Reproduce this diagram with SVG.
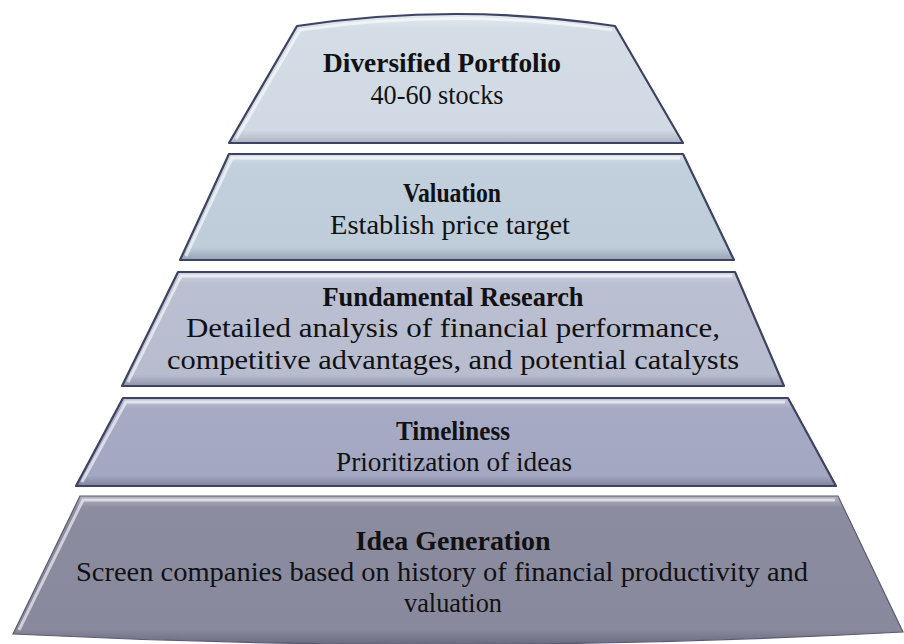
<svg xmlns="http://www.w3.org/2000/svg" width="904" height="644" viewBox="0 0 904 644">
<style>
.edge{stroke:#3d4360;stroke-width:2.2;stroke-linejoin:round}
.hi{fill:none;stroke:#ffffff;stroke-opacity:0.6;stroke-width:3}
.t{font-family:'Liberation Serif','Times New Roman','DejaVu Serif',serif;font-size:27px;fill:#111111;text-anchor:middle}
.b{font-weight:bold}
</style>
<defs>
<linearGradient id="g1" x1="0" y1="0" x2="0" y2="1">
<stop offset="0" stop-color="#e4eaf0"/><stop offset="0.12" stop-color="#d4dde6"/><stop offset="0.9" stop-color="#d1dae4"/><stop offset="1" stop-color="#aab3c2"/>
</linearGradient>
<linearGradient id="g2" x1="0" y1="0" x2="0" y2="1">
<stop offset="0" stop-color="#dbe3ec"/><stop offset="0.1" stop-color="#c2cfdc"/><stop offset="0.88" stop-color="#bfccd9"/><stop offset="1" stop-color="#98a3b5"/>
</linearGradient>
<linearGradient id="g3" x1="0" y1="0" x2="0" y2="1">
<stop offset="0" stop-color="#d3d7e3"/><stop offset="0.1" stop-color="#babfd2"/><stop offset="0.9" stop-color="#b7bccf"/><stop offset="1" stop-color="#9095aa"/>
</linearGradient>
<linearGradient id="g4" x1="0" y1="0" x2="0" y2="1">
<stop offset="0" stop-color="#c3c6d8"/><stop offset="0.12" stop-color="#a6aac4"/><stop offset="0.88" stop-color="#a3a7c1"/><stop offset="1" stop-color="#80839c"/>
</linearGradient>
<linearGradient id="g5" x1="0" y1="0" x2="0" y2="1">
<stop offset="0" stop-color="#b3b3c4"/><stop offset="0.08" stop-color="#8c8ca1"/><stop offset="0.9" stop-color="#89899e"/><stop offset="1" stop-color="#6a6a80"/>
</linearGradient>
</defs>

<g id="layer-diversified-portfolio">
<path class="edge" fill="url(#g1)" d="M297,26 Q456,2 615,26 L683,143 L229,143 Z"/>
<path class="hi" d="M236,139 L300,30 Q456,7 612,30"/>
<text class="t b" font-family="Liberation Serif, serif" x="442" y="72" textLength="238" lengthAdjust="spacingAndGlyphs">Diversified Portfolio</text>
<text class="t" font-family="Liberation Serif, serif" x="437" y="104" textLength="133" lengthAdjust="spacingAndGlyphs">40-60 stocks</text>
</g>

<g id="layer-valuation">
<path class="edge" fill="url(#g2)" d="M229,154 L683,154 L734,260 L180,260 Z"/>
<path class="hi" d="M186,256 L232,158 L680,158"/>
<text class="t b" font-family="Liberation Serif, serif" x="452" y="202" textLength="98" lengthAdjust="spacingAndGlyphs">Valuation</text>
<text class="t" font-family="Liberation Serif, serif" x="450" y="234" textLength="240" lengthAdjust="spacingAndGlyphs">Establish price target</text>
</g>

<g id="layer-fundamental-research">
<path class="edge" fill="url(#g3)" d="M178,272 L735,272 L784,386 L122,386 Z"/>
<path class="hi" d="M128,382 L181,276 L732,276"/>
<text class="t b" font-family="Liberation Serif, serif" x="453" y="306" textLength="261" lengthAdjust="spacingAndGlyphs">Fundamental Research</text>
<text class="t" font-family="Liberation Serif, serif" x="453" y="337" textLength="534" lengthAdjust="spacingAndGlyphs">Detailed analysis of financial performance,</text>
<text class="t" font-family="Liberation Serif, serif" x="453" y="369" textLength="572" lengthAdjust="spacingAndGlyphs">competitive advantages, and potential catalysts</text>
</g>

<g id="layer-timeliness">
<path class="edge" fill="url(#g4)" d="M123,398 L788,398 L836,486 L76,486 Z"/>
<path class="hi" d="M82,482 L126,402 L785,402"/>
<text class="t b" font-family="Liberation Serif, serif" x="453" y="440" textLength="114" lengthAdjust="spacingAndGlyphs">Timeliness</text>
<text class="t" font-family="Liberation Serif, serif" x="454" y="471" textLength="236" lengthAdjust="spacingAndGlyphs">Prioritization of ideas</text>
</g>

<g id="layer-idea-generation">
<path fill="url(#g5)" stroke="#5a5a72" stroke-width="1.2" d="M80,496 L838,496 L903,632 Q456,656 13,634 Z"/>
<path class="hi" d="M19,630 L83,500 L835,500"/>
<text class="t b" font-family="Liberation Serif, serif" x="453" y="550" textLength="195" lengthAdjust="spacingAndGlyphs">Idea Generation</text>
<text class="t" font-family="Liberation Serif, serif" x="442" y="581" textLength="732" lengthAdjust="spacingAndGlyphs">Screen companies based on history of financial productivity and</text>
<text class="t" font-family="Liberation Serif, serif" x="453" y="612" textLength="98" lengthAdjust="spacingAndGlyphs">valuation</text>
</g>

<g id="connectors"></g>
</svg>
